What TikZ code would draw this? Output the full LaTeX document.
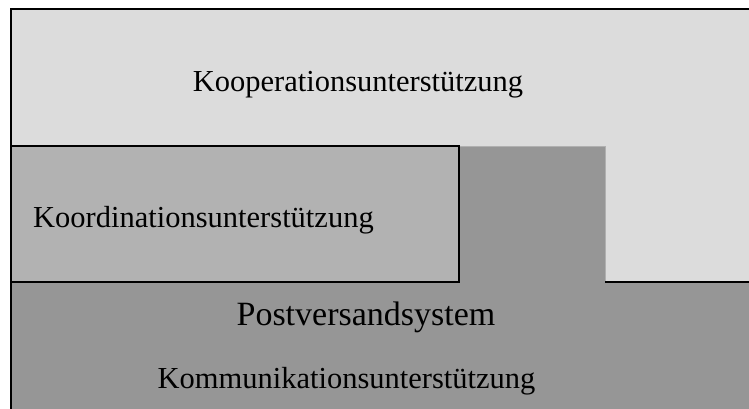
\documentclass[tikz,border=0pt]{standalone}
\usepackage{fontspec}
\setmainfont{Liberation Serif}
\definecolor{coopfill}{HTML}{DCDCDC}
\definecolor{coordfill}{HTML}{B2B2B2}
\definecolor{commfill}{HTML}{969696}
\begin{document}
\begin{tikzpicture}[x=1pt,y=-1pt,
  border/.style={draw=black,line width=1.6pt},
  boxline/.style={draw=black,line width=1.4pt},
  label/.style={inner sep=0pt,anchor=base,font=\fontsize{30.5}{36}\selectfont},
  biglabel/.style={label,font=\fontsize{34}{40}\selectfont}]
\useasboundingbox (0,0) rectangle (749,409);
% layer areas
\fill[coopfill] (11,9) rectangle (749,409);
\fill[commfill] (11,282) -- (459,282) -- (459,146) -- (605,146) -- (605,282)
  -- (749,282) -- (749,409) -- (11,409) -- cycle;
\draw[color=coopfill!80!black,line width=0.8pt] (459,146.5) -- (605,146.5) -- (605,282);
\filldraw[coordfill,boxline] (11,146) rectangle (459,282);
% outer frame
\draw[border] (11,409) -- (11,9) -- (749,9);
\draw[boxline] (605,282) -- (749,282);
% labels
\node[label] (coop) at (358,92) {Kooperationsunterstützung};
\node[label,anchor=base west] (coord) at (33,227) {Koordinationsunterstützung};
\node[biglabel] (post) at (366,325) {Postversandsystem};
\node[label] (comm) at (346.5,388) {Kommunikationsunterstützung};
\end{tikzpicture}
\end{document}
